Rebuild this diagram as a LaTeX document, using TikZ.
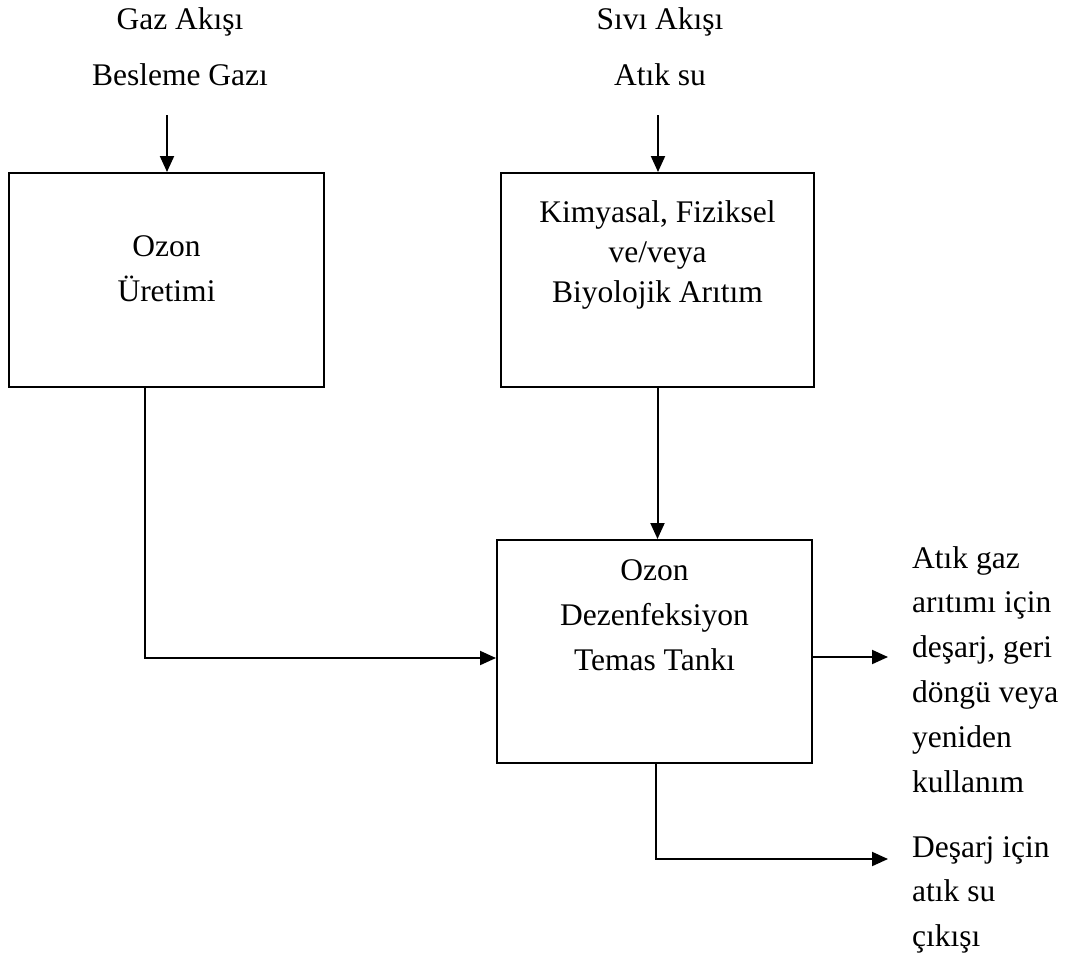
\documentclass[tikz,border=0pt]{standalone}
\usepackage{fontspec}
\setmainfont{Liberation Serif}
\usepackage{tikz}
\usetikzlibrary{arrows.meta,positioning,calc}

\begin{document}
\begin{tikzpicture}[x=1pt, y=-1pt,
        box/.style={draw, line width=2pt, inner sep=0pt},
        txt/.style={inner sep=0pt, align=center, font=\fontsize{31.5}{45}\selectfont},
        sidetxt/.style={inner sep=0pt, align=left, anchor=north west, font=\fontsize{31.5}{44.8}\selectfont},
        flow/.style={line width=2pt, -{Triangle[length=16pt, width=14pt]}}]
        \useasboundingbox (0,0) rectangle (1073,956);
        \node[box, minimum width=315pt, minimum height=214pt] (ozon) at (166.5,280) {};
        \node[box, minimum width=313pt, minimum height=214pt] (kimya) at (657.5,280) {};
        \node[box, minimum width=315pt, minimum height=223pt] (temas) at (654.5,651.5) {};
        \node[txt, anchor=north] (ozontxt) at ([yshift=-63pt]ozon.north) {Ozon\\Üretimi};
        \node[txt, anchor=north, font=\fontsize{31.5}{40}\selectfont] (kimyatxt) at ([yshift=-28pt]kimya.north) {Kimyasal, Fiziksel\\ve/veya\\Biyolojik Arıtım};
        \node[txt, anchor=north] (temastxt) at ([yshift=-20pt]temas.north) {Ozon\\Dezenfeksiyon\\Temas Tankı};
        \node[txt, anchor=north, font=\fontsize{31.5}{56}\selectfont] (gaz) at (180,7) {Gaz Akışı\\Besleme Gazı};
        \node[txt, anchor=north, font=\fontsize{31.5}{56}\selectfont] (sivi) at (660,7) {Sıvı Akışı\\Atık su};
        \node[sidetxt] (gazcikis) at (912,546) {Atık gaz\\arıtımı için\\deşarj, geri\\döngü veya\\yeniden\\kullanım};
        \node[sidetxt, font=\fontsize{31.5}{44.5}\selectfont] (sucikis) at (912,836) {Deşarj için\\atık su\\çıkışı};
        \coordinate (gazin) at (167,115);
        \coordinate (suin) at (658,115);
        \coordinate (gazout) at (888,657);
        \coordinate (suout) at (888,859);
        \draw[flow] (gazin) -- (gazin |- ozon.north);
        \draw[flow] (suin) -- (suin |- kimya.north);
        \draw[flow] (kimya.south) -- (kimya.south |- temas.north);
        \draw[flow] ([xshift=-21.5pt]ozon.south) |- ([yshift=-6.5pt]temas.west);
        \draw[flow] ([yshift=-5.5pt]temas.east) -- (gazout);
        \draw[flow] ([xshift=1.5pt]temas.south) |- (suout);
\end{tikzpicture}
\end{document}
